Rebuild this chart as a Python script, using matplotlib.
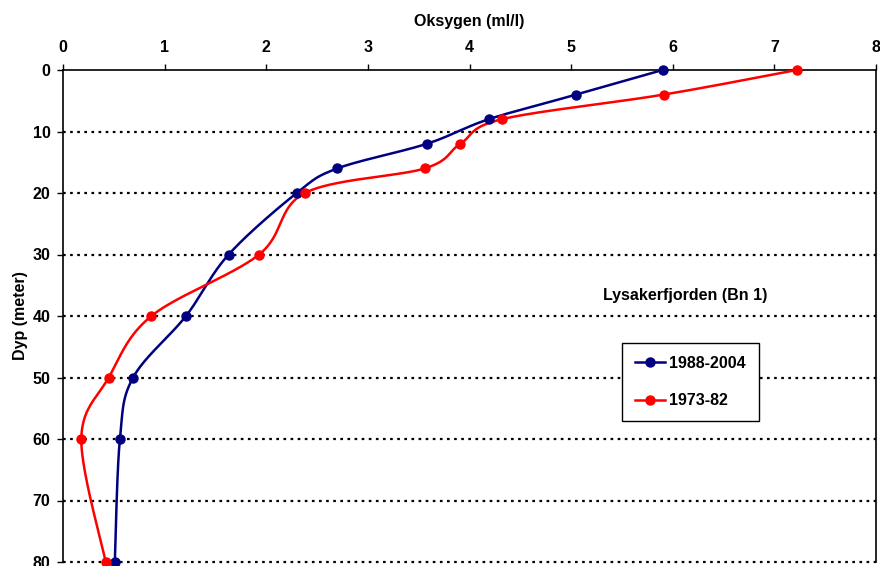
import matplotlib
matplotlib.use("Agg")
import matplotlib.pyplot as plt
from matplotlib.lines import Line2D
import numpy as np

plt.rcParams['font.family'] = ['Liberation Sans', 'DejaVu Sans']
plt.rcParams['font.weight'] = 'bold'

depth = [0, 4, 8, 12, 16, 20, 30, 40, 50, 60, 80]
oxy_new = [5.90, 5.05, 4.19, 3.58, 2.70, 2.30, 1.63, 1.21, 0.69, 0.56, 0.51]
oxy_old = [7.22, 5.91, 4.32, 3.91, 3.56, 2.38, 1.93, 0.87, 0.45, 0.18, 0.42]
labels = ["1988-2004", "1973-82"]
colors = ["#000080", "#ff0000"]


def smooth(ax, xs, ys, n=40):
    # Excel-like smoothed line: cubic bezier through points, computed in pixel space
    pts = ax.transData.transform(np.column_stack([xs, ys]))
    p = np.vstack([pts[0], pts, pts[-1]])
    t = np.linspace(0, 1, n)[:, None]
    segs = []
    for i in range(1, len(p) - 2):
        p0, p1, p2, p3 = p[i - 1], p[i], p[i + 1], p[i + 2]
        c1 = p1 + (p2 - p0) / 6
        c2 = p2 - (p3 - p1) / 6
        segs.append((1 - t) ** 3 * p1 + 3 * (1 - t) ** 2 * t * c1
                    + 3 * (1 - t) * t ** 2 * c2 + t ** 3 * p2)
    curve = ax.transData.inverted().transform(np.vstack(segs))
    return curve[:, 0], curve[:, 1]


fig = plt.figure(figsize=(8.8, 5.66), dpi=100)
ax = fig.add_axes([63 / 880, 1 - 562 / 566, (876 - 63) / 880, (562 - 70) / 566])
ax.set_xlim(0, 8)
ax.set_ylim(80, 0)

fs = 11.5
ax.xaxis.tick_top()
ax.xaxis.set_label_position('top')
ax.set_xticks(range(0, 9))
ax.set_yticks(range(0, 81, 10))
ax.tick_params(axis='x', direction='out', length=4, width=1, pad=7, labelsize=fs)
ax.tick_params(axis='y', direction='out', length=4, width=1, pad=5, labelsize=fs)
ax.spines['bottom'].set_visible(False)
for s in ['top', 'left', 'right']:
    ax.spines[s].set_linewidth(1.2)

for yv in range(10, 81, 10):
    ax.axhline(yv, color='black', lw=1.6, ls=(0, (1.2, 2.0)), zorder=1, clip_on=False)

for xs, col in zip([oxy_new, oxy_old], colors):
    cx, cy = smooth(ax, xs, depth)
    ax.plot(cx, cy, color=col, lw=1.8, zorder=3, clip_on=False)
    ax.plot(xs, depth, ls='none', marker='o', ms=6.5, color=col, zorder=4, clip_on=False)

ax.set_xlabel("Oksygen (ml/l)", fontsize=fs, fontweight='bold', labelpad=10)
ax.set_ylabel("Dyp (meter)", fontsize=fs, fontweight='bold', labelpad=3)

ax.text(6.12, 36.7, "Lysakerfjorden (Bn 1)", ha='center', va='center',
        fontsize=fs, fontweight='bold')

handles = [Line2D([], [], color=c, lw=1.8, marker='o', ms=6.5) for c in colors]
leg = ax.legend(handles, labels, loc='upper left', bbox_to_anchor=(0.688, 0.445),
                borderaxespad=0, fancybox=False, frameon=True, framealpha=1,
                edgecolor='black', handlelength=1.9, handletextpad=0.25,
                labelspacing=1.4, borderpad=0.8,
                prop={'size': fs, 'weight': 'bold'})
leg.get_frame().set_linewidth(1.0)
leg.set_zorder(5)

fig.savefig("out.png", dpi=100)
